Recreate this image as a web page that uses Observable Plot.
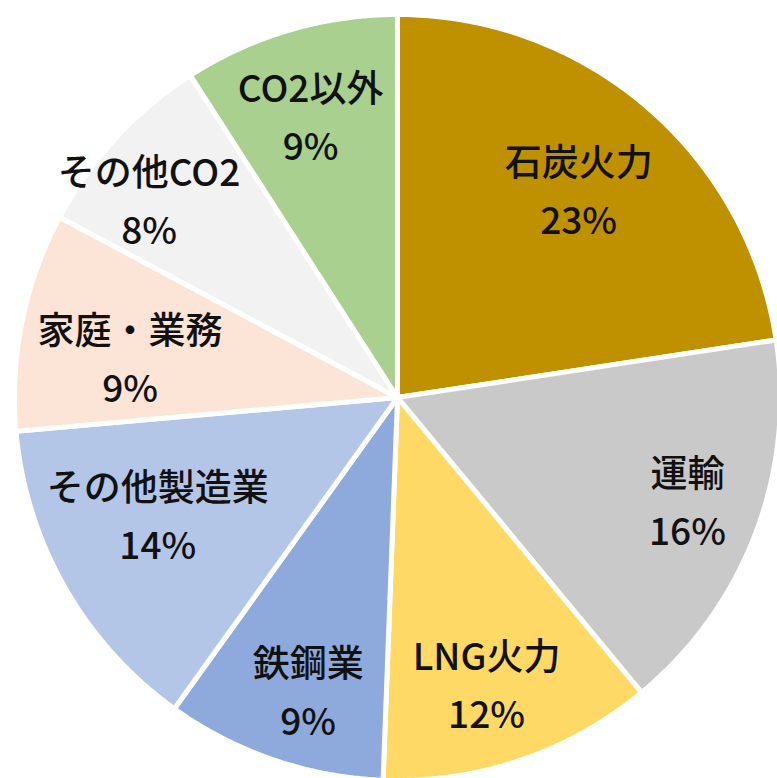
<!DOCTYPE html>
<html>
<head>
<meta charset="utf-8">
<script src="https://cdn.jsdelivr.net/npm/d3@7"></script>
<script src="https://cdn.jsdelivr.net/npm/@observablehq/plot@0.6"></script>
<style>
  html, body { margin: 0; padding: 0; background: #ffffff; }
  #chart svg { display: block; }
</style>
</head>
<body>
<div id="chart"></div>
<script>
// Data (clockwise from 12 o'clock)
const categories = ["石炭火力", "運輸", "LNG火力", "鉄鋼業", "その他製造業", "家庭・業務", "その他CO2", "CO2以外"];
const shares = [22.6, 16.4, 11.6, 9.3, 13.7, 9.2, 8.1, 9.1];
const colors = ["#BF9000", "#C9C9C9", "#FFD966", "#8EA9DB", "#B4C6E7", "#FCE4D6", "#F2F2F2", "#A9D08E"];

// Label layout (Excel-style "best fit" placement): radial fraction and angular nudge (deg)
const labelRadius = [0.714, 0.806, 0.79, 0.807, 0.70, 0.705, 0.825, 0.764];
const labelNudge = [0.8, -0.8, 1.6, -2.1, 3.1, -3.6, -4.5, -0.9];

const total = d3.sum(shares);
const slicePoints = [];
const labels = [];
let cum = 0;
categories.forEach((name, i) => {
  const a0 = cum / total * 2 * Math.PI;
  const a1 = (cum + shares[i]) / total * 2 * Math.PI;
  cum += shares[i];
  slicePoints.push({name, x: 0, y: 0});
  const n = 120;
  for (let k = 0; k <= n; k++) {
    const t = a0 + (a1 - a0) * k / n;
    slicePoints.push({name, x: Math.sin(t), y: Math.cos(t)});
  }
  const mid = (a0 + a1) / 2 + labelNudge[i] * Math.PI / 180;
  const lr = labelRadius[i];
  labels.push({
    name,
    x: lr * Math.sin(mid),
    y: lr * Math.cos(mid),
    text: name + "\n" + Math.round(shares[i] / total * 100) + "%"
  });
});

const chart = Plot.plot({
  width: 777,
  height: 778,
  margin: 0,
  x: {domain: [-1, 1], range: [14, 780], axis: null},
  y: {domain: [-1, 1], range: [780, 14], axis: null},
  color: {domain: categories, range: colors},
  style: {background: "#ffffff"},
  marks: [
    Plot.line(slicePoints, {
      x: "x", y: "y", z: "name", fill: "name",
      stroke: "#ffffff", strokeWidth: 5, strokeLinejoin: "round",
      curve: "linear-closed"
    }),
    Plot.text(labels, {
      x: "x", y: "y", text: "text", dy: -6,
      fontSize: 37, fontWeight: 500,
      fontFamily: "'Noto Sans CJK JP', 'Noto Sans', sans-serif",
      fill: "#111111", lineHeight: 1.57
    })
  ]
});
document.getElementById("chart").appendChild(chart);
</script>
</body>
</html>
